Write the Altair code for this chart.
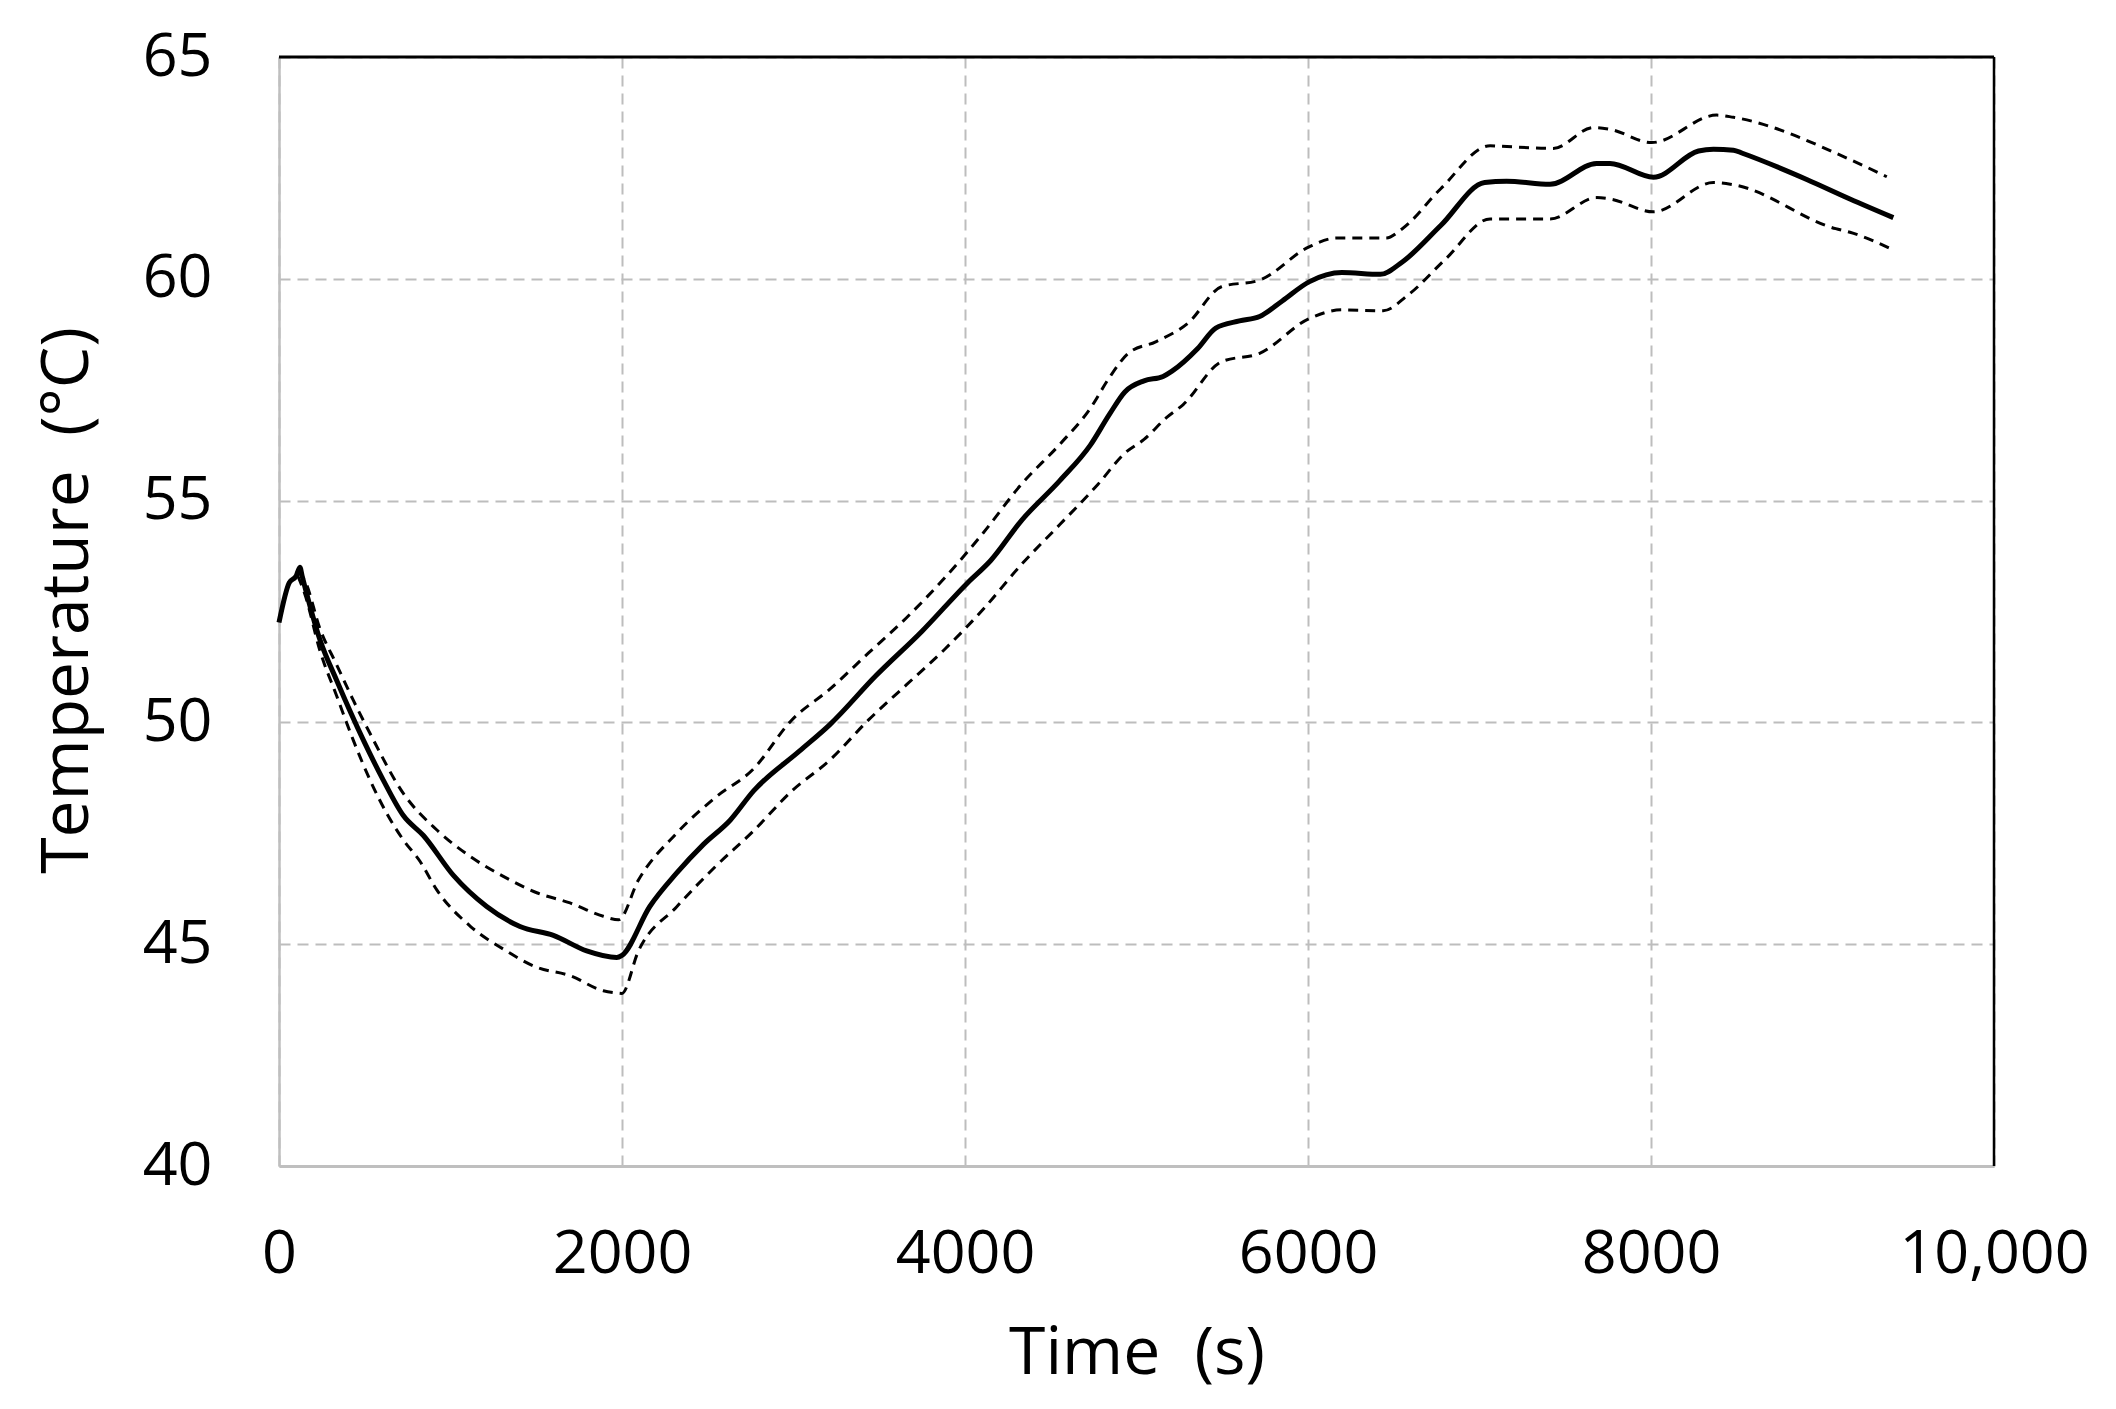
import pandas as pd
import altair as alt

# mean temperature (solid)
time_mean = [0, 60, 100, 122, 135, 240, 336, 492, 608, 725, 842, 1017, 1211, 1405, 1600, 1794, 1969, 2000,
             2162, 2318, 2475, 2632, 2766, 3034, 3212, 3480, 3748, 4016, 4150, 4329, 4553, 4731, 4843, 4932,
             5044, 5155, 5207, 5357, 5462, 5600, 5718, 5850, 6006, 6198, 6422, 6550, 6774, 7030, 7158, 7411,
             7683, 7761, 8014, 8277, 8364, 8481, 8533, 8908, 9160, 9413]
temp_mean = [52.25, 53.15, 53.3, 53.5, 53.3, 51.85, 50.95, 49.6, 48.7, 47.9, 47.45, 46.55, 45.85, 45.4, 45.2, 44.85, 44.7, 44.75,
             45.85, 46.6, 47.25, 47.8, 48.45, 49.35, 49.95, 51.05, 52.05, 53.15, 53.65, 54.55, 55.45, 56.25, 56.95, 57.45,
             57.7, 57.8, 57.92, 58.43, 58.89, 59.05, 59.15, 59.5, 59.93, 60.14, 60.1, 60.38, 61.2, 62.17, 62.2, 62.13,
             62.6, 62.6, 62.29, 62.88, 62.92, 62.9, 62.83, 62.24, 61.8, 61.38]

# upper bound (dashed)
time_upper = [110, 150, 240, 336, 433, 531, 725, 919, 1114, 1308, 1503, 1697, 1891, 1980, 2095, 2318, 2542,
              2766, 2989, 3212, 3436, 3659, 3882, 4106, 4329, 4553, 4731, 4843, 4955, 5112, 5300, 5495, 5718,
              6006, 6166, 6455, 6550, 6774, 7062, 7120, 7430, 7664, 7761, 8004, 8383, 8481, 9160, 9375]
temp_upper = [53.4, 53.2, 52.1, 51.3, 50.5, 49.75, 48.4, 47.58, 46.98, 46.53, 46.16, 45.93, 45.63, 45.55, 46.44, 47.5, 48.3,
              48.95, 50.05, 50.75, 51.56, 52.36, 53.26, 54.27, 55.37, 56.27, 57.08, 57.78, 58.33, 58.58, 59.0, 59.82, 59.97,
              60.72, 60.92, 60.92, 61.13, 62.03, 63.0, 62.99, 62.94, 63.41, 63.37, 63.07, 63.69, 63.64, 62.69, 62.3]

# lower bound (dashed)
time_lower = [110, 150, 240, 336, 433, 531, 628, 725, 822, 919, 1114, 1308, 1503, 1697, 1891, 1969, 1999, 2095,
              2318, 2542, 2766, 2989, 3212, 3436, 3659, 3882, 4106, 4329, 4553, 4776, 4932, 5044, 5178, 5271,
              5495, 5718, 6006, 6198, 6438, 6582, 6806, 7062, 7411, 7683, 7761, 8014, 8364, 8481, 9077, 9160, 9413]
temp_lower = [53.3, 52.9, 51.6, 50.6, 49.6, 48.7, 47.95, 47.35, 46.87, 46.23, 45.41, 44.89, 44.48, 44.29, 43.95, 43.9, 43.89, 44.84,
              45.84, 46.74, 47.55, 48.45, 49.15, 50.05, 50.85, 51.65, 52.55, 53.56, 54.46, 55.37, 56.07, 56.38, 56.88, 57.16,
              58.13, 58.32, 59.1, 59.3, 59.28, 59.63, 60.46, 61.35, 61.35, 61.83, 61.8, 61.51, 62.17, 62.12, 61.13, 61.05, 60.65]

x_ticks = [0, 2000, 4000, 6000, 8000, 10000]
y_ticks = [40, 45, 50, 55, 60, 65]

mean_df = pd.DataFrame({'t': time_mean, 'T': temp_mean})
upper_df = pd.DataFrame({'t': time_upper, 'T': temp_upper})
lower_df = pd.DataFrame({'t': time_lower, 'T': temp_lower})
one_row = pd.DataFrame({'k': [0]})

FONT = 'Open Sans'
W, H = 1715, 1109

x_scale = alt.Scale(domain=[0, 10000], nice=False)
y_scale = alt.Scale(domain=[40, 65], nice=False, zero=False)

x_enc = alt.X('t:Q', scale=x_scale,
              axis=alt.Axis(values=x_ticks, title='Time\u00a0 (s)', ticks=False, labelPadding=58,
                            labelFlush=False, labelBound=False, labelLimit=500, labelOverlap=False,
                            labelExpr="datum.value >= 10000 ? format(datum.value, ',') : format(datum.value, 'd')",
                            titleX=W / 2, titleY=207, titleBaseline='alphabetic',
                            domainColor='#bfbfbf', domainWidth=3))
y_enc = alt.Y('T:Q', scale=y_scale,
              axis=alt.Axis(values=y_ticks, title='Temperature\u00a0 (°C)', ticks=False, labelPadding=67,
                            labelFlush=False, labelOverlap=False,
                            titleX=-192, titleY=543, titleBaseline='alphabetic',
                            domainColor='#bfbfbf', domainWidth=2.5))

dashed = dict(color='black', strokeWidth=3, strokeDash=[10, 7], interpolate='monotone')

upper = alt.Chart(upper_df).mark_line(**dashed).encode(x=x_enc, y=y_enc)
lower = alt.Chart(lower_df).mark_line(**dashed).encode(x=x_enc, y=y_enc)
mean = alt.Chart(mean_df).mark_line(color='black', strokeWidth=5, interpolate='monotone').encode(x=x_enc, y=y_enc)

# black frame on top and right, drawn over the gridlines
top_rule = alt.Chart(one_row).mark_rule(color='black', strokeWidth=3).encode(y=alt.datum(65, scale=y_scale))
right_rule = alt.Chart(one_row).mark_rule(color='black', strokeWidth=2.5).encode(x=alt.datum(10000, scale=x_scale))

chart = (upper + lower + mean + top_rule + right_rule).properties(
    width=W, height=H,
    autosize=alt.AutoSizeParams(type='none'),
    padding={'left': 271, 'top': 49, 'right': 100, 'bottom': 240},
    background='white',
).configure_view(
    stroke=None
).configure_axis(
    grid=True, gridColor='#bdbdbd', gridWidth=2, gridDash=[11, 7],
    labelFont=FONT, labelFontSize=61, labelColor='black',
    titleFont=FONT, titleFontSize=66, titleFontWeight='normal', titleColor='black',
)

chart.save('out.html', embed_options={'renderer': 'svg', 'actions': False})
